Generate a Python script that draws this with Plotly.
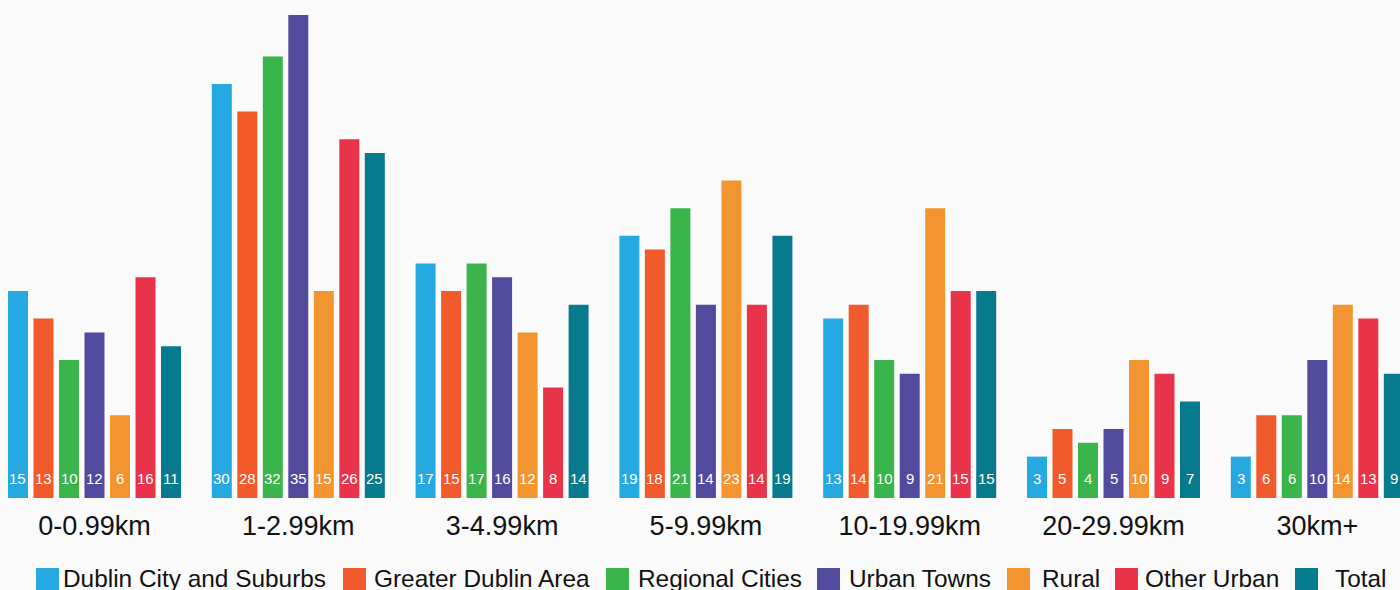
import plotly.graph_objects as go

# Distance bands and area types
categories = ["0-0.99km", "1-2.99km", "3-4.99km", "5-9.99km",
              "10-19.99km", "20-29.99km", "30km+"]

series_names = ["Dublin City and Suburbs", "Greater Dublin Area", "Regional Cities",
                "Urban Towns", "Rural", "Other Urban", "Total"]

dublin_city = [15, 30, 17, 19, 13, 3, 3]
greater_dublin = [13, 28, 15, 18, 14, 5, 6]
regional_cities = [10, 32, 17, 21, 10, 4, 6]
urban_towns = [12, 35, 16, 14, 9, 5, 10]
rural = [6, 15, 12, 23, 21, 10, 14]
other_urban = [16, 26, 8, 14, 15, 9, 13]
total = [11, 25, 14, 19, 15, 7, 9]

series_values = [dublin_city, greater_dublin, regional_cities, urban_towns,
                 rural, other_urban, total]

colors = ["#25a9e0", "#f15a2b", "#3ab54b", "#524a9c", "#f29530", "#e8334b", "#077b8d"]

W, H = 1400, 590
BOTTOM = 92
PLOT_H = H - BOTTOM
BARGAP = 0.124
BARGROUPGAP = 0.216
FONT = "Liberation Sans"

fig = go.Figure()
x_pos = list(range(len(categories)))
n_series = len(series_names)
annotations = []
for k, (name, vals, col) in enumerate(zip(series_names, series_values, colors)):
    fig.add_trace(go.Bar(
        x=x_pos, y=vals, name=name,
        marker=dict(color=col, line=dict(width=0)),
        showlegend=False, hoverinfo="skip",
    ))
    # value label near the foot of each bar, at the bar's grouped offset
    offset = (k - (n_series - 1) / 2) * (1 - BARGAP) / n_series
    for xi, v in zip(x_pos, vals):
        annotations.append(dict(
            xref="x", yref="y", x=xi + offset, y=0,
            xanchor="center", yanchor="bottom", yshift=9,
            showarrow=False, text=str(v),
            font=dict(size=15, color="white", family=FONT)))

# Custom legend: large colour squares with labels below the axis
legend_square_x = [36, 343, 606, 817, 1007, 1115, 1295]
legend_text_x = [61, 372, 636, 847, 1040, 1143, 1333]
sq_top, sq_bot = 568, 591


def py(px):
    return (PLOT_H - px) / PLOT_H


shapes = []
for name, col, sx, tx in zip(series_names, colors, legend_square_x, legend_text_x):
    shapes.append(dict(type="rect", xref="paper", yref="paper",
                       x0=sx / W, x1=(sx + 23) / W, y0=py(sq_bot), y1=py(sq_top),
                       fillcolor=col, line=dict(width=0), layer="above"))
    annotations.append(dict(xref="paper", yref="paper", x=tx / W, y=py(578.5),
                            xanchor="left", yanchor="middle", showarrow=False,
                            text=name,
                            font=dict(size=24.4, color="#111111", family=FONT)))

unit = 203.8
first_center = 94.5

fig.update_layout(
    width=W, height=H,
    margin=dict(l=0, r=0, t=0, b=BOTTOM, pad=0),
    paper_bgcolor="#fafafa", plot_bgcolor="#fafafa",
    barmode="group", bargap=BARGAP, bargroupgap=BARGROUPGAP,
    font=dict(family=FONT, color="#111111"),
    xaxis=dict(range=[-first_center / unit, (W - first_center) / unit],
               tickvals=x_pos, ticktext=categories, ticks="",
               ticklabelstandoff=9,
               showgrid=False, zeroline=False, showline=False,
               tickfont=dict(size=27, color="#111111"), fixedrange=True),
    yaxis=dict(range=[0, PLOT_H / 13.8], visible=False, showgrid=False,
               zeroline=False, fixedrange=True),
    shapes=shapes, annotations=annotations,
)

fig.write_html("out.html", config={"displayModeBar": False})
